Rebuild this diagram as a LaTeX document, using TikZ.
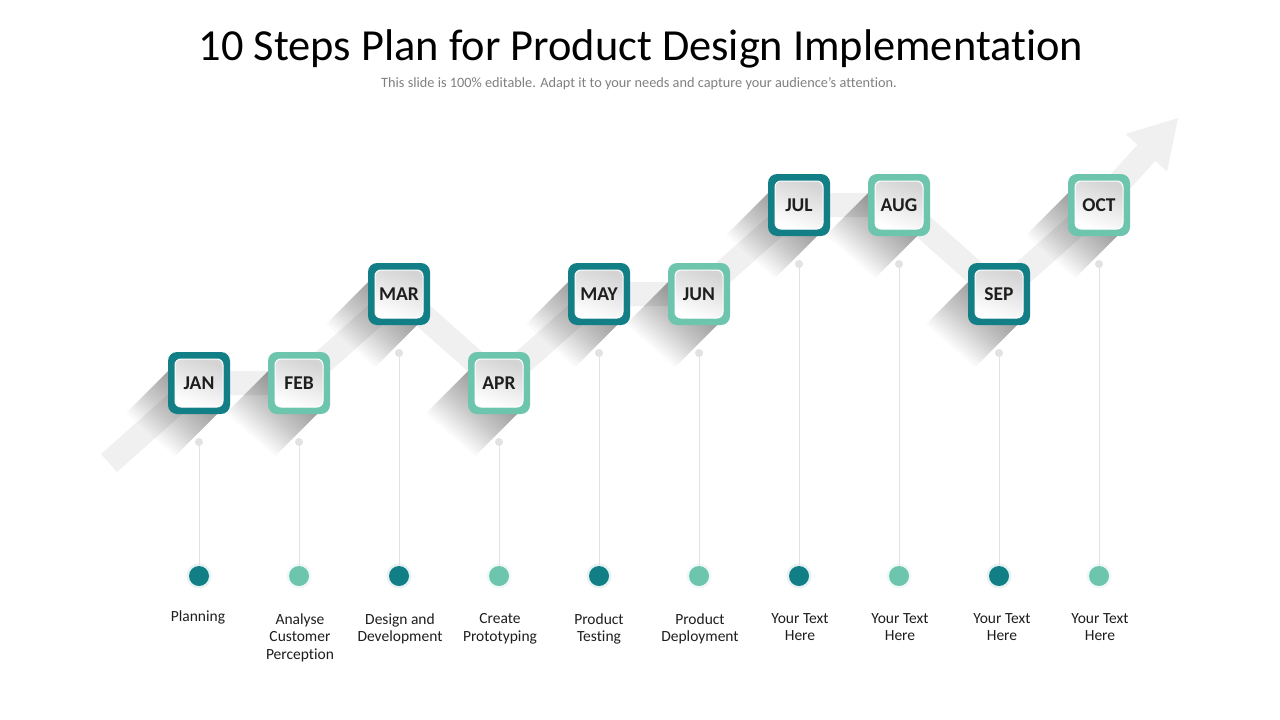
\documentclass[tikz,border=0pt]{standalone}
\usepackage{fontspec}
\setmainfont[Ligatures=NoCommon]{Carlito}
\definecolor{dteal}{HTML}{127F86}
\definecolor{lteal}{HTML}{6CC5AC}
\definecolor{bandc}{HTML}{F0F0F0}
\definecolor{linec}{HTML}{E2E2E2}
\definecolor{txt}{HTML}{1E1E1E}
\definecolor{subc}{HTML}{808080}
\tikzset{
  obox/.style={minimum size=62pt, inner sep=0pt, rounded corners=9pt, draw=none},
  ibox/.style={minimum size=48pt, inner sep=0pt, rounded corners=6pt, draw=white, line width=1pt,
     top color=black!17, bottom color=white, shading angle=-20,
     font=\fontsize{19.5}{22}\selectfont\bfseries, text=txt},
  shadowpoly/.style={fill=black, fill opacity=0.02},
  stem/.style={draw=linec, line width=1pt},
  gdot/.style={circle, fill=linec, minimum size=8pt, inner sep=0pt},
  cdot/.style={circle, minimum size=20pt, inner sep=0pt},
  halo/.style={circle, minimum size=25pt, inner sep=0pt},
  lab/.style={anchor=north, align=center, font=\fontsize{15.5}{17.5}\selectfont, text=txt},
}
\begin{document}
\begin{tikzpicture}[x=1pt,y=-1pt]
\useasboundingbox (0,0) rectangle (1280,720);
\fill[white] (0,0) rectangle (1280,720);

% titles
\node (title) at (641,49) {\fontsize{44.4}{52}\selectfont 10 Steps Plan for Product Design Implementation};
\node[text=subc] (sub) at (639,84) {\fontsize{14.3}{16}\selectfont This slide is 100\% editable. Adapt it to your needs and capture your audience's attention.};

% path coordinates
\coordinate (tail) at (109,463);
\coordinate (pjan) at (199,383);
\coordinate (pfeb) at (299,383);
\coordinate (pmar) at (399,294);
\coordinate (papr) at (499,383);
\coordinate (pmay) at (599,294);
\coordinate (pjun) at (699,294);
\coordinate (pjul) at (799,205);
\coordinate (paug) at (899,205);
\coordinate (psep) at (999,294);
\coordinate (poct) at (1099,205);
\coordinate (hbase) at (1146.4,152.8);
\coordinate (tip) at (1178,118);
\coordinate (hl) at (1125.7,134);
\coordinate (hr) at (1167.1,171.6);

% band and arrow head
\draw[bandc, line width=24pt, line join=miter] (tail) -- (pjan) -- (pfeb) -- (pmar) -- (papr) -- (pmay) -- (pjun) -- (pjul) -- (paug) -- (psep) -- (poct) -- (hbase);
\fill[bandc] (hl) -- (tip) -- (hr) -- cycle;

% stems and dots
\foreach \n/\x/\y/\c in {a/199/383/dteal, b/299/383/lteal, c/399/294/dteal, d/499/383/lteal, e/599/294/dteal,
                         f/699/294/lteal, g/799/205/dteal, h/899/205/lteal, i/999/294/dteal, j/1099/205/lteal}{
  \node[gdot] (g\n) at (\x,\y+59) {};
  \node[halo, fill=\c!10] (h\n) at (\x,576) {};
  \node[cdot, fill=\c] (c\n) at (\x,576) {};
  \draw[stem] (g\n) -- (c\n);
}

% shadows and boxes
\foreach \n/\t/\c/\p in {jan/JAN/dteal/pjan, feb/FEB/lteal/pfeb, mar/MAR/dteal/pmar, apr/APR/lteal/papr,
                         may/MAY/dteal/pmay, jun/JUN/lteal/pjun, jul/JUL/dteal/pjul, aug/AUG/lteal/paug,
                         sep/SEP/dteal/psep, oct/OCT/lteal/poct}{
  \foreach \d in {2,4,...,42}{
    \fill[shadowpoly] ([shift={(-31,-12)}]\p) -- ([shift={(18,31)}]\p) -- ([shift={(18-\d,31+\d)}]\p) -- ([shift={(-31-\d,-12+\d)}]\p) -- cycle;
  }
  \node[obox, fill=\c] (\n) at (\p) {};
  \node[ibox] (\n in) at (\p) {\t};
}

% labels
\node[lab] (l1) at (198,607) {Planning};
\node[lab] (l2) at (300,610) {Analyse\\Customer\\Perception};
\node[lab] (l3) at (400,610) {Design and\\Development};
\node[lab] (l4) at (500,610) {Create\\Prototyping};
\node[lab] (l5) at (599,610) {Product\\Testing};
\node[lab] (l6) at (700,610) {Product\\Deployment};
\node[lab] (l7) at (800,610) {Your Text\\Here};
\node[lab] (l8) at (900,610) {Your Text\\Here};
\node[lab] (l9) at (1002,610) {Your Text\\Here};
\node[lab] (l10) at (1100,610) {Your Text\\Here};
\end{tikzpicture}
\end{document}
